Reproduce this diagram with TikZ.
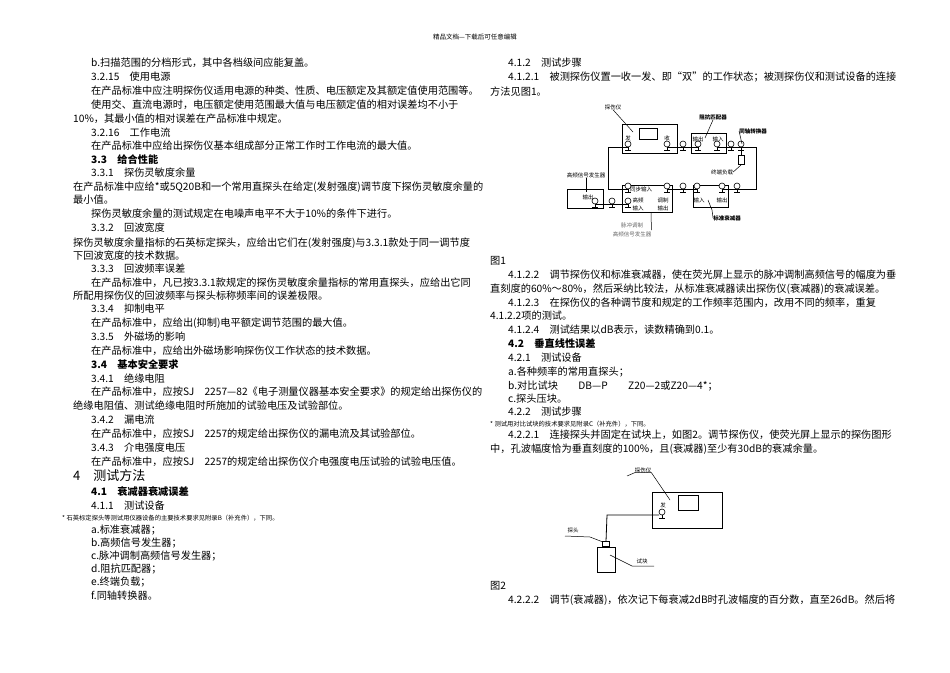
\documentclass[tikz,border=0pt]{standalone}
\usepackage{fontspec}
\setmainfont{Noto Sans CJK SC}
\begin{document}
\begin{tikzpicture}[x=1pt,y=-1pt,
  tx/.style={anchor=west,inner sep=0,font=\fontsize{10.2}{12}\selectfont},
  hd/.style={anchor=west,inner sep=0,font=\fontsize{10.2}{12}\selectfont\bfseries},
  fn/.style={anchor=west,inner sep=0,font=\fontsize{6.3}{8}\selectfont},
  fl/.style={inner sep=0,font=\fontsize{5.5}{7}\selectfont},
  box/.style={draw,line width=0.8pt},
  ln/.style={line width=0.8pt},
  lead/.style={line width=0.5pt}]
\useasboundingbox (0,0) rectangle (950,672);
\fill[white] (0,0) rectangle (950,672);
\node[inner sep=0,font=\fontsize{6.5}{8}\selectfont] (hdr) at (475,37) {精品文档---下载后可任意编辑};
% left column
\def\a{91}\def\b{73}
\node[tx] at (\a,63) {b.扫描范围的分档形式，其中各档级间应能复盖。};
\node[tx] at (\a,77) {3.2.15\quad 使用电源};
\node[tx] at (\a,91) {在产品标准中应注明探伤仪适用电源的种类、性质、电压额定及其额定值使用范围等。};
\node[tx] at (\a,105) {使用交、直流电源时，电压额定使用范围最大值与电压额定值的相对误差均不小于};
\node[tx] at (\b,119) {10\%，其最小值的相对误差在产品标准中规定。};
\node[tx] at (\a,133) {3.2.16\quad 工作电流};
\node[tx] at (\a,146) {在产品标准中应给出探伤仪基本组成部分正常工作时工作电流的最大值。};
\node[hd] at (\a,160) {3.3\quad 给合性能};
\node[tx] at (\a,173) {3.3.1\quad 探伤灵敏度余量};
\node[tx] at (\b,187) {在产品标准中应给*或5Q20B和一个常用直探头在给定(发射强度)调节度下探伤灵敏度余量的};
\node[tx] at (\b,200) {最小值。};
\node[tx] at (\a,214) {探伤灵敏度余量的测试规定在电噪声电平不大于10\%的条件下进行。};
\node[tx] at (\a,228) {3.3.2\quad 回波宽度};
\node[tx] at (\b,243) {探伤灵敏度余量指标的石英标定探头，应给出它们在(发射强度)与3.3.1款处于同一调节度};
\node[tx] at (\b,256) {下回波宽度的技术数据。};
\node[tx] at (\a,269) {3.3.3\quad 回波频率误差};
\node[tx] at (\a,283) {在产品标准中，凡已按3.3.1款规定的探伤灵敏度余量指标的常用直探头，应给出它同};
\node[tx] at (\b,296) {所配用探伤仪的回波频率与探头标称频率间的误差极限。};
\node[tx] at (\a,309) {3.3.4\quad 抑制电平};
\node[tx] at (\a,323) {在产品标准中，应给出(抑制)电平额定调节范围的最大值。};
\node[tx] at (\a,337) {3.3.5\quad 外磁场的影响};
\node[tx] at (\a,351) {在产品标准中，应给出外磁场影响探伤仪工作状态的技术数据。};
\node[hd] at (\a,365) {3.4\quad 基本安全要求};
\node[tx] at (\a,379) {3.4.1\quad 绝缘电阻};
\node[tx] at (\a,392) {在产品标准中，应按SJ\quad 2257—82《电子测量仪器基本安全要求》的规定给出探伤仪的};
\node[tx] at (\b,406) {绝缘电阻值、测试绝缘电阻时所施加的试验电压及试验部位。};
\node[tx] at (\a,420) {3.4.2\quad 漏电流};
\node[tx] at (\a,434) {在产品标准中，应按SJ\quad 2257的规定给出探伤仪的漏电流及其试验部位。};
\node[tx] at (\a,448) {3.4.3\quad 介电强度电压};
\node[tx] at (\a,462) {在产品标准中，应按SJ\quad 2257的规定给出探伤仪介电强度电压试验的试验电压值。};
\node[anchor=west,inner sep=0,font=\fontsize{13}{15}\selectfont] at (\b,476) {4\quad 测试方法};
\node[hd] at (\a,492) {4.1\quad 衰减器衰减误差};
\node[tx] at (\a,506) {4.1.1\quad 测试设备};
\node[fn] at (62,518) {* 石英标定探头等测试用仪器设备的主要技术要求见附录B（补充件），下同。};
\node[tx] at (\a,530) {a.标准衰减器；};
\node[tx] at (\a,543) {b.高频信号发生器；};
\node[tx] at (\a,556) {c.脉冲调制高频信号发生器；};
\node[tx] at (\a,569) {d.阻抗匹配器；};
\node[tx] at (\a,582) {e.终端负载；};
\node[tx] at (\a,596) {f.同轴转换器。};
% right column
\def\c{508}\def\d{490}
\node[tx] at (\c,63) {4.1.2\quad 测试步骤};
\node[tx] at (\c,77) {4.1.2.1\quad 被测探伤仪置一收一发、即“双”的工作状态；被测探伤仪和测试设备的连接};
\node[tx] at (\d,92) {方法见图1。};
\node[tx] at (\d,261) {图1};
\node[tx] at (\c,275) {4.1.2.2\quad 调节探伤仪和标准衰减器，使在荧光屏上显示的脉冲调制高频信号的幅度为垂};
\node[tx] at (\d,289) {直刻度的60\%～80\%，然后采纳比较法，从标准衰减器读出探伤仪(衰减器)的衰减误差。};
\node[tx] at (\c,303) {4.1.2.3\quad 在探伤仪的各种调节度和规定的工作频率范围内，改用不同的频率，重复};
\node[tx] at (\d,316) {4.1.2.2项的测试。};
\node[tx] at (\c,330) {4.1.2.4\quad 测试结果以dB表示，读数精确到0.1。};
\node[hd] at (\c,344) {4.2\quad 垂直线性误差};
\node[tx] at (\c,358) {4.2.1\quad 测试设备};
\node[tx] at (\c,372) {a.各种频率的常用直探头；};
\node[tx] at (\c,386) {b.对比试块\qquad DB—P\qquad Z20—2或Z20—4*；};
\node[tx] at (\c,399) {c.探头压块。};
\node[tx] at (\c,412) {4.2.2\quad 测试步骤};
\node[fn] at (\d,424) {* 测试用对比试块的技术要求见附录C（补充件），下同。};
\node[tx] at (\c,435) {4.2.2.1\quad 连接探头并固定在试块上，如图2。调节探伤仪，使荧光屏上显示的探伤图形};
\node[tx] at (\d,449) {中，孔波幅度恰为垂直刻度的100\%，且(衰减器)至少有30dB的衰减余量。};
\node[tx] at (\d,586) {图2};
\node[tx] at (\c,600) {4.2.2.2\quad 调节(衰减器)，依次记下每衰减2dB时孔波幅度的百分数，直至26dB。然后将};
% ---------- figure 1 ----------
\tikzset{conn/.pic={\draw[line width=0.6pt,fill=white] (0,0) circle (3);\draw[line width=0.6pt] (0,3)--(0,6) (-3,6)--(3,6);}}
\node[box,minimum width=55,minimum height=29,anchor=north west] (fsy) at (622,124) {};
\draw[line width=0.7pt] (639,128) rectangle (657,139);
\node[fl] at (628,138) {发};
\node[fl] at (667,138) {收};
\node[box,minimum width=35,minimum height=20,anchor=north west] (zk) at (691,133) {};
\node[fl] at (698,139) {输出};
\node[fl] at (718,139) {输入};
\node[box,minimum width=50,minimum height=27,anchor=north west] (mc) at (622,185) {};
\node[fl,anchor=west] at (630,189) {同步输入};
\node[fl] at (638,200) {高频};
\node[fl] at (638,208) {输入};
\node[fl] at (663,200) {调制};
\node[fl] at (663,208) {输出};
\node[box,minimum width=35,minimum height=22,anchor=north west] (bz) at (693,185) {};
\node[fl] at (699,200) {输入};
\node[fl] at (722,200) {输出};
\node[box,minimum width=36,minimum height=19,anchor=north west] (gp) at (567,189) {};
\node[fl] at (588,197) {输出};
\node[draw,line width=0.6pt,minimum width=6,minimum height=9,inner sep=0] (load) at (741,160) {};
\coordinate (lt) at (608,147); \coordinate (lb) at (608,189);
\coordinate (rt) at (756,147); \coordinate (rb) at (756,189);
\draw[ln] (628,147) -- (lt) -- (lb) -- (628,189);
\draw[ln] (667,147) -- (698,147);
\draw[ln] (717,147) -- (rt) -- (rb) -- (722,189);
\draw[ln] (667,189) -- (697,189);
\draw[ln] (595,204) -- (628,204);
\draw[ln] (741,147) -- (load.north);
\foreach \p in {(628,144),(667,144),(683,144),(698,144),(717,144),(731,144),(741,144),
  (628,186),(667,186),(683,186),(697,186),(722,186),(737,186),(595,201),(612,201),(628,201)}
  \pic at \p {conn};
\node[fl] (l1) at (613,107) {探伤仪};
\draw[lead] (l1.south) -- (633,132);
\node[fl,font=\fontsize{5.5}{7}\selectfont\bfseries] (l2) at (713,117) {阻抗匹配器};
\draw[lead] (l2.south) -- (705,138);
\node[fl,font=\fontsize{5.5}{7}\selectfont\bfseries] (l3) at (753,131) {同轴转换器};
\draw[lead] (l3.west) -- (742,144);
\node[fl] (l4) at (722,172) {终端负载};
\draw[lead] (l4.east) -- (741,165);
\node[fl] (l5) at (586,175) {高频信号发生器};
\draw[lead] (l5.south) -- (586,192);
\node[fl,font=\fontsize{5.5}{7}\selectfont\bfseries] (l6) at (727,218) {标准衰减器};
\draw[lead] (l6.west) -- (712,210) -- (708,200);
\node[fl,text=black!60,align=center] (l7) at (632,230) {脉冲调制\\[2pt]高频信号发生器};
\draw[lead] (l7.east) -- (651,213);
% ---------- figure 2 ----------
\node[box,minimum width=70,minimum height=36,anchor=north west] (ts) at (652,492) {};
\draw[line width=0.7pt] (678,495) rectangle (698,510);
\node[fl] at (663,505) {发};
\pic at (662,512) {conn};
\node[draw,line width=0.8pt,minimum width=18,minimum height=25,anchor=north west,inner sep=0] (blk) at (597,547) {};
\node[draw,line width=0.7pt,minimum width=7,minimum height=5,inner sep=0,anchor=south] (pr) at (606,547) {};
\coordinate (c1) at (607,515);
\draw[ln] (659,515) -- (c1) -- (pr.north);
\node[fl] (m1) at (643,470) {探伤仪};
\draw[lead] (627,476) -- (m1.south west) -- (m1.south east) -- (670,500);
\node[fl] (m2) at (573,530) {探头};
\draw[lead] (565,536) -- (590,537) -- (603,542);
\node[fl] (m3) at (642,561) {试块};
\draw[lead] (610,555) -- (632,566) -- (654,566);
\end{tikzpicture}
\end{document}
